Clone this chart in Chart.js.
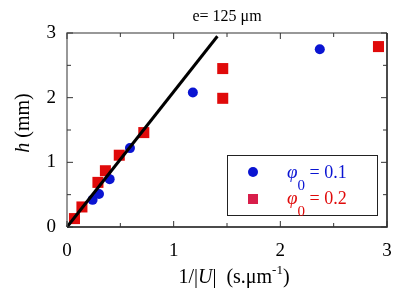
<!DOCTYPE html>
<html lang="en">
<head>
  <meta charset="UTF-8">
  <title>h vs 1/|U|</title>
  <script src="https://cdn.jsdelivr.net/npm/chart.js"></script>
  <style>
    html, body { margin: 0; padding: 0; background: #fff; }
    #wrap { width: 401px; height: 300px; }
  </style>
</head>
<body>
  <div id="wrap"><canvas id="myChart" width="401" height="300"></canvas></div>

  <script>
    // data
    const blueX = [0.24, 0.30, 0.40, 0.59, 1.18, 2.37];
    const blueY = [0.42, 0.51, 0.74, 1.22, 2.08, 2.75];
    const redX = [0.07, 0.14, 0.29, 0.36, 0.49, 0.72, 1.46, 1.46, 2.92];
    const redY = [0.13, 0.31, 0.69, 0.87, 1.11, 1.46, 2.45, 1.99, 2.79];
    const fitX = [0, 1.41];
    const fitY = [0, 2.95];
    const xTicks = [0, 1, 2, 3];
    const yTicks = [0, 1, 2, 3];

    const SERIF = '"Liberation Serif", "DejaVu Serif", serif';
    const BLUE = '#0a14d2';
    const RED = '#e00a0a';

    const pts = (xs, ys) => xs.map((x, i) => ({ x: x, y: ys[i] }));

    // draws a row of text pieces, each {t, font, dy}
    function drawRuns(ctx, runs, x, y, align) {
      let total = 0;
      runs.forEach(r => { ctx.font = r.font; r.w = ctx.measureText(r.t).width; total += r.w; });
      let cx = align === 'center' ? x - total / 2 : x;
      ctx.textAlign = 'left';
      ctx.textBaseline = 'alphabetic';
      runs.forEach(r => {
        ctx.font = r.font;
        ctx.fillText(r.t, cx, y + (r.dy || 0));
        cx += r.w;
      });
    }

    const decor = {
      id: 'decor',
      afterDraw(chart) {
        const ctx = chart.ctx;
        const a = chart.chartArea;
        const xs = chart.scales.x, ys = chart.scales.y;
        ctx.save();

        // frame
        ctx.lineWidth = 1.5;
        ctx.strokeStyle = '#777';
        ctx.beginPath();
        ctx.moveTo(a.left, a.bottom); ctx.lineTo(a.left, a.top); ctx.lineTo(a.right, a.top);
        ctx.stroke();
        ctx.strokeStyle = '#111';
        ctx.beginPath();
        ctx.moveTo(a.right, a.top); ctx.lineTo(a.right, a.bottom); ctx.lineTo(a.left, a.bottom);
        ctx.stroke();

        // inward ticks, majors and halves
        ctx.lineWidth = 1;
        ctx.strokeStyle = '#333';
        for (let v = 0; v <= 3; v += 0.5) {
          const len = Number.isInteger(v) ? 6 : 4;
          const px = xs.getPixelForValue(v);
          const py = ys.getPixelForValue(v);
          ctx.beginPath();
          ctx.moveTo(px, a.bottom); ctx.lineTo(px, a.bottom - len);
          ctx.moveTo(px, a.top); ctx.lineTo(px, a.top + len);
          ctx.moveTo(a.left, py); ctx.lineTo(a.left + len, py);
          ctx.moveTo(a.right, py); ctx.lineTo(a.right - len, py);
          ctx.stroke();
        }

        // title
        ctx.fillStyle = '#000';
        drawRuns(ctx, [{ t: 'e= 125 \u03bcm', font: '16px ' + SERIF }], (a.left + a.right) / 2, 21, 'center');

        // x axis title
        drawRuns(ctx, [
          { t: '1/|', font: '20px ' + SERIF },
          { t: 'U', font: 'italic 20px ' + SERIF },
          { t: '|  (s.\u03bcm', font: '20px ' + SERIF },
          { t: '-1', font: '13px ' + SERIF, dy: -9 },
          { t: ')', font: '20px ' + SERIF }
        ], 234, 283, 'center');

        // y axis title
        ctx.save();
        ctx.translate(29, 123);
        ctx.rotate(-Math.PI / 2);
        drawRuns(ctx, [
          { t: 'h', font: 'italic 20px ' + SERIF },
          { t: ' (mm)', font: '20px ' + SERIF }
        ], 0, 0, 'center');
        ctx.restore();

        // legend box
        const bx = 227, by = 155, bw = 150, bh = 60;
        ctx.fillStyle = '#fff';
        ctx.fillRect(bx, by, bw, bh);
        ctx.strokeStyle = '#222';
        ctx.lineWidth = 1;
        ctx.strokeRect(bx + 0.5, by + 0.5, bw, bh);

        ctx.fillStyle = BLUE;
        ctx.beginPath();
        ctx.arc(253, 172, 5, 0, Math.PI * 2);
        ctx.fill();
        ctx.fillStyle = '#d81e4a';
        ctx.fillRect(248, 194, 10, 10);

        ctx.fillStyle = BLUE;
        drawRuns(ctx, [
          { t: '\u03c6', font: 'italic 19px ' + SERIF },
          { t: '0', font: '15px ' + SERIF, dy: 12 },
          { t: ' = 0.1', font: '18px ' + SERIF }
        ], 287, 178, 'left');
        ctx.fillStyle = RED;
        drawRuns(ctx, [
          { t: '\u03c6', font: 'italic 19px ' + SERIF },
          { t: '0', font: '15px ' + SERIF, dy: 12 },
          { t: ' = 0.2', font: '18px ' + SERIF }
        ], 287, 204, 'left');

        ctx.restore();
      }
    };

    const ctx = document.getElementById('myChart').getContext('2d');
    new Chart(ctx, {
      type: 'scatter',
      data: {
        datasets: [
          {
            label: 'fit',
            data: pts(fitX, fitY),
            showLine: true,
            borderColor: '#000',
            borderWidth: 3,
            pointRadius: 0
          },
          {
            label: 'phi0 = 0.1',
            data: pts(blueX, blueY),
            pointStyle: 'circle',
            pointRadius: 5,
            backgroundColor: BLUE,
            borderWidth: 0
          },
          {
            label: 'phi0 = 0.2',
            data: pts(redX, redY),
            pointStyle: 'rect',
            pointRadius: 7.8,
            backgroundColor: RED,
            borderWidth: 0
          }
        ]
      },
      options: {
        responsive: false,
        animation: false,
        clip: false,
        layout: { padding: { top: 33, right: 14, left: 0, bottom: 0 } },
        plugins: {
          legend: { display: false },
          tooltip: { enabled: false }
        },
        scales: {
          x: {
            type: 'linear',
            min: 0,
            max: 3,
            afterFit(scale) {
              scale.height = 73;
              scale.paddingLeft = 0;
              scale.paddingRight = 0;
            },
            afterBuildTicks(scale) { scale.ticks = xTicks.map(v => ({ value: v })); },
            grid: { display: false, drawTicks: false },
            border: { display: false },
            ticks: {
              padding: 13,
              color: '#000',
              font: { family: SERIF, size: 19 }
            }
          },
          y: {
            type: 'linear',
            min: 0,
            max: 3,
            afterFit(scale) {
              scale.width = 67;
              scale.paddingTop = 0;
              scale.paddingBottom = 0;
            },
            afterBuildTicks(scale) { scale.ticks = yTicks.map(v => ({ value: v })); },
            grid: { display: false, drawTicks: false },
            border: { display: false },
            ticks: {
              padding: 11,
              color: '#000',
              font: { family: SERIF, size: 19 }
            }
          }
        }
      },
      plugins: [decor]
    });
  </script>
</body>
</html>
